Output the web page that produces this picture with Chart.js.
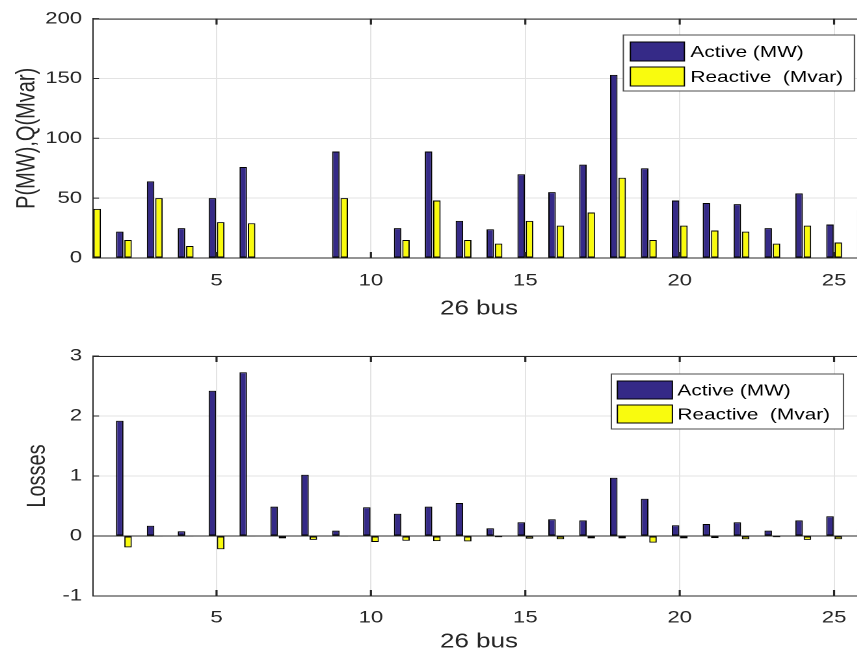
<!DOCTYPE html>
<html>
<head>
<meta charset="utf-8">
<script src="https://cdn.jsdelivr.net/npm/chart.js@4.4.1/dist/chart.umd.min.js"></script>
<style>
  html, body { margin: 0; padding: 0; background: #fff; overflow: hidden; }
  #wrap { position: relative; width: 857px; height: 657px; overflow: hidden; }
  canvas { position: absolute; left: 0; }
</style>
</head>
<body>
<div id="wrap">
  <canvas id="loads"></canvas>
  <canvas id="losses"></canvas>
</div>
<script>
// bus numbers and tick labels
var buses = [1,2,3,4,5,6,7,8,9,10,11,12,13,14,15,16,17,18,19,20,21,22,23,24,25,26];
var xTicks = [5, 10, 15, 20, 25];
var loadTicks = [0, 50, 100, 150, 200];
var lossTicks = [-1, 0, 1, 2, 3];

// top plot: load at each bus
var loadP = [51,22,64,25,50,76,0,0,89,0,25,89,31,24,70,55,78,153,75,48,46,45,25,54,28,40];
var loadQ = [41,15,50,10,30,29,0,0,50,0,15,48,15,12,31,27,38,67,15,27,23,22,12,27,13,20];

// bottom plot: losses
var lossP = [0,1.92,0.17,0.08,2.42,2.73,0.49,1.02,0.09,0.48,0.37,0.49,0.55,0.13,0.23,0.28,0.26,0.97,0.62,0.18,0.20,0.23,0.09,0.26,0.33,0.11];
var lossQ = [0,-0.19,-0.01,-0.01,-0.22,-0.005,-0.04,-0.065,-0.01,-0.10,-0.08,-0.085,-0.09,-0.02,-0.045,-0.055,-0.04,-0.04,-0.11,-0.04,-0.035,-0.055,-0.02,-0.065,-0.055,-0.02];

var seriesNames = ['Active (MW)', 'Reactive  (Mvar)'];
var xTitle = '26 bus';
var loadTitle = 'P(MW),Q(Mvar)';
var lossTitle = 'Losses';

// the original figure is stretched sideways, so draw narrow and stretch with css
var S = 1.3;
var W = 665;
var FONT = '"Liberation Sans", Arial, Helvetica, sans-serif';
var blue = '#352a87', yellow = '#f9fb0e';
var axisCol = '#262626', gridCol = '#e3e3e3', textCol = '#262626';

function pts(vals) {
  return buses.map(function (b, i) { return {x: b, y: vals[i]}; });
}

function setup(id, h, top) {
  var c = document.getElementById(id);
  c.width = W; c.height = h;
  c.style.width = (W * S) + 'px';
  c.style.height = h + 'px';
  c.style.top = top + 'px';
  return c;
}

// box on top + inward tick marks like matlab
var frame = {
  id: 'frame',
  afterDatasetsDraw: function (chart) {
    var a = chart.chartArea, ctx = chart.ctx, xs = chart.scales.x, ys = chart.scales.y;
    ctx.save();
    ctx.strokeStyle = axisCol;
    ctx.lineWidth = 1;
    ctx.beginPath();
    ctx.moveTo(a.left, a.top + 0.5); ctx.lineTo(a.right, a.top + 0.5);
    ctx.stroke();
    ctx.lineWidth = 1.6;
    ctx.beginPath();
    xs.ticks.forEach(function (t) {
      var px = xs.getPixelForValue(t.value);
      ctx.moveTo(px, a.top); ctx.lineTo(px, a.top + 6);
      ctx.moveTo(px, a.bottom); ctx.lineTo(px, a.bottom - 6);
    });
    ctx.stroke();
    ctx.lineWidth = 1;
    ctx.beginPath();
    ys.ticks.forEach(function (t) {
      var py = ys.getPixelForValue(t.value);
      ctx.moveTo(a.left, py); ctx.lineTo(a.left + 6 / S, py);
    });
    ctx.stroke();
    ctx.restore();
  }
};

var boxLegend = {
  id: 'boxLegend',
  afterDraw: function (chart, args, o) {
    var ctx = chart.ctx, ds = chart.data.datasets;
    ctx.save();
    ctx.fillStyle = '#fff';
    ctx.fillRect(o.x / S, o.y, o.w / S, o.h);
    ctx.strokeStyle = '#4d4d4d';
    ctx.lineWidth = 1;
    ctx.strokeRect(o.x / S, o.y, o.w / S, o.h);
    ctx.font = '16px ' + FONT;
    ctx.textBaseline = 'middle';
    ds.forEach(function (d, i) {
      var y = o.py + i * o.step;
      ctx.fillStyle = d.backgroundColor;
      ctx.fillRect(o.px / S, y, o.pw / S, o.ph);
      ctx.strokeStyle = '#000';
      ctx.strokeRect(o.px / S, y, o.pw / S, o.ph);
      ctx.fillStyle = '#000';
      ctx.fillText(d.label, o.tx / S, y + o.ph / 2 + 1);
    });
    ctx.restore();
  }
};

function barChart(canvas, p, q, yTicks, yTitle, pad, leg) {
  var ds = function (label, vals, col) {
    return {
      label: label, data: pts(vals), backgroundColor: col,
      borderColor: '#000', borderWidth: 1, borderSkipped: false,
      categoryPercentage: 0.54, barPercentage: 0.9, clip: 0
    };
  };
  return new Chart(canvas, {
    type: 'bar',
    data: { datasets: [ds(seriesNames[0], p, blue), ds(seriesNames[1], q, yellow)] },
    options: {
      responsive: false,
      animation: false,
      devicePixelRatio: 2,
      layout: { padding: { top: pad.top, left: 0, right: 0, bottom: 0 } },
      plugins: { legend: { display: false }, tooltip: { enabled: false }, boxLegend: leg },
      scales: {
        x: {
          type: 'linear', min: 1, max: 26, offset: false,
          afterBuildTicks: function (s) { s.ticks = xTicks.map(function (v) { return {value: v}; }); },
          afterFit: function (s) { s.height = pad.xh; },
          grid: { color: gridCol, drawTicks: false, offset: false },
          border: { color: axisCol, width: 1 },
          ticks: { font: { family: FONT, size: 17 }, color: textCol, padding: pad.xtp, maxRotation: 0 },
          title: { display: true, text: xTitle, color: textCol, font: { family: FONT, size: 20 },
                   padding: { top: 0, bottom: pad.xb } }
        },
        y: {
          min: yTicks[0], max: yTicks[yTicks.length - 1],
          afterBuildTicks: function (s) { s.ticks = yTicks.map(function (v) { return {value: v}; }); },
          afterFit: function (s) { s.width = 71.5; },
          grid: {
            drawTicks: false,
            color: function (c) { return c.tick && c.tick.value === 0 ? axisCol : gridCol; }
          },
          border: { color: axisCol, width: 1 },
          ticks: { font: { family: FONT, size: 17 }, color: textCol, padding: 8.4 },
          title: { display: true, text: yTitle, color: textCol, font: { family: FONT, size: 20 },
                   padding: { top: pad.yt, bottom: 0 } }
        }
      }
    },
    plugins: [frame, boxLegend]
  });
}

barChart(setup('loads', 330, 0), loadP, loadQ, loadTicks, loadTitle,
  { top: 17, xh: 72, xtp: 12.8, xb: 9, yt: 8.8 },
  { x: 623, y: 35, w: 231, h: 56, px: 630, pw: 54, ph: 19, py: 42, step: 25, tx: 690 });

barChart(setup('losses', 327, 330), lossP, lossQ, lossTicks, lossTitle,
  { top: 26, xh: 61, xtp: 11.8, xb: 3, yt: 17.2 },
  { x: 611, y: 44, w: 232, h: 55, px: 617, pw: 55, ph: 18, py: 51, step: 24, tx: 677 });
</script>
</body>
</html>
